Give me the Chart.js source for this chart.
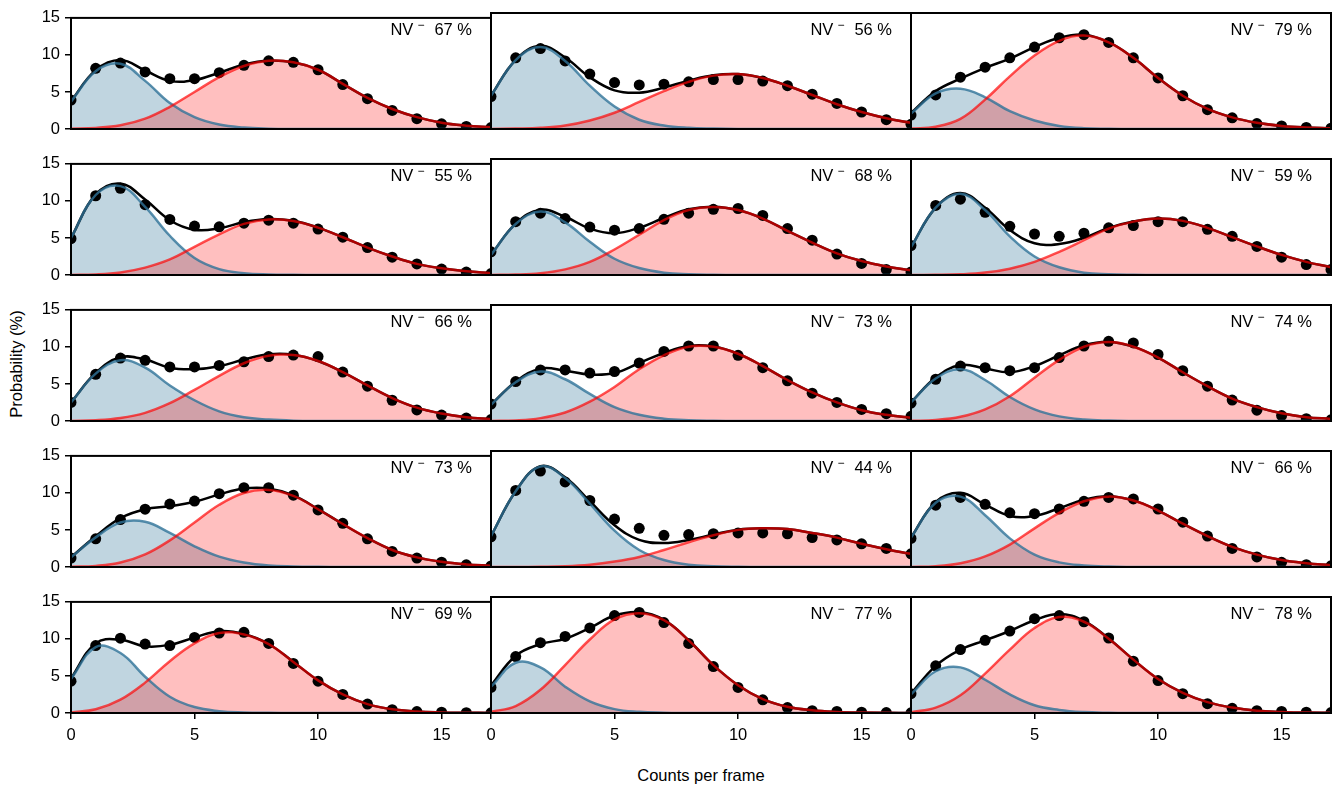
<!DOCTYPE html>
<html lang="en">
<head>
<meta charset="UTF-8">
<title>NV charge state histograms</title>
<script src="https://cdn.jsdelivr.net/npm/chart.js"></script>
<style>
  body { margin: 0; background: #fff; font-family: 'Liberation Sans', Arial, sans-serif; }
  #fig { position: relative; width: 1338px; height: 791px; overflow: hidden; background: #fff; }
  #fig canvas { position: absolute; }
  .tag { position: absolute; font-size: 16.5px; color: #000; white-space: nowrap; line-height: 18px; }
  .tag sup { font-size: 12px; vertical-align: 6px; line-height: 0; margin: 0 10px 0 4px; }
  .xlabel { position: absolute; left: 501px; width: 400px; top: 766px; text-align: center; font-size: 16.5px; }
  .ylabel { position: absolute; left: 16px; top: 364px; transform: translate(-50%, -50%) rotate(-90deg); font-size: 16.5px; white-space: nowrap; }
</style>
</head>
<body>
<div id="fig">
  <div class="ylabel">Probability (%)</div>
  <div class="xlabel">Counts per frame</div>
</div>

<script>
// photon counts per frame (x positions of the histogram bins)
const counts = [0, 1, 2, 3, 4, 5, 6, 7, 8, 9, 10, 11, 12, 13, 14, 15, 16, 17];
const xTicks = [0, 5, 10, 15];
const yTicks = [0, 5, 10, 15];

// NV- share printed in each panel (row by row)
const nvMinusShare = [67, 56, 79, 55, 68, 59, 66, 73, 74, 73, 44, 66, 69, 77, 78];

// measured histograms (black dots), %
const measured = [
  [3.9, 8.2, 8.9, 7.7, 6.8, 6.8, 7.6, 8.6, 9.2, 9.0, 8.0, 6.0, 4.1, 2.5, 1.4, 0.7, 0.35, 0.2],
  [4.2, 9.2, 10.4, 8.8, 7.1, 6.0, 5.7, 5.8, 6.1, 6.4, 6.4, 6.2, 5.6, 4.5, 3.3, 2.2, 1.2, 0.6],
  [1.8, 4.4, 6.7, 8.0, 9.2, 10.6, 11.8, 12.2, 11.2, 9.2, 6.6, 4.3, 2.5, 1.45, 0.7, 0.4, 0.2, 0.1],
  [4.9, 10.7, 11.7, 9.5, 7.5, 6.6, 6.5, 7.0, 7.4, 7.0, 6.2, 5.1, 3.7, 2.4, 1.5, 0.8, 0.4, 0.2],
  [3.0, 6.9, 8.0, 7.3, 6.2, 5.8, 6.0, 7.2, 8.0, 8.5, 8.6, 7.7, 6.0, 4.5, 2.7, 1.5, 0.7, 0.4],
  [3.8, 9.0, 9.8, 8.1, 6.3, 5.3, 5.0, 5.4, 6.1, 6.4, 6.9, 6.9, 5.9, 5.0, 3.7, 2.3, 1.35, 0.7],
  [2.5, 6.3, 8.5, 8.2, 7.3, 7.3, 7.5, 8.0, 8.7, 8.9, 8.7, 6.6, 4.7, 2.8, 1.5, 0.8, 0.4, 0.2],
  [2.2, 5.1, 6.6, 6.6, 6.2, 6.4, 7.5, 9.0, 9.7, 9.7, 8.5, 6.9, 5.2, 3.6, 2.4, 1.5, 0.95, 0.6],
  [2.3, 5.4, 7.1, 6.9, 6.5, 6.9, 8.2, 9.7, 10.3, 10.1, 8.6, 6.5, 4.5, 2.7, 1.4, 0.7, 0.3, 0.15],
  [1.2, 3.8, 6.4, 7.8, 8.5, 8.9, 9.9, 10.7, 10.7, 9.7, 7.7, 5.9, 3.8, 2.1, 1.2, 0.65, 0.3, 0.15],
  [3.9, 9.9, 12.4, 11.0, 8.6, 6.2, 5.0, 4.1, 4.2, 4.3, 4.4, 4.4, 4.3, 3.8, 3.5, 3.0, 2.4, 1.7],
  [3.7, 8.0, 9.0, 8.1, 7.0, 6.9, 7.5, 8.5, 9.0, 8.8, 7.5, 5.8, 4.0, 2.4, 1.3, 0.6, 0.3, 0.15],
  [4.3, 9.1, 10.1, 9.3, 9.1, 10.2, 10.8, 10.9, 9.4, 6.7, 4.3, 2.5, 1.2, 0.45, 0.2, 0.1, 0.05, 0.02],
  [3.3, 7.3, 9.1, 9.9, 11.0, 12.6, 13.0, 11.7, 9.0, 6.0, 3.3, 1.7, 0.7, 0.3, 0.2, 0.1, 0.05, 0.02],
  [2.5, 6.1, 8.2, 9.4, 10.6, 12.2, 12.6, 11.8, 9.7, 6.7, 4.2, 2.5, 1.2, 0.6, 0.3, 0.2, 0.1, 0.05]
];

// NV0 component of the fit (blue)
const nv0Fit = [
  [3.7, 7.8, 8.8, 6.5, 3.5, 1.6, 0.6, 0.2, 0.05, 0, 0, 0, 0, 0, 0, 0, 0, 0],
  [4.3, 8.9, 10.6, 8.8, 5.6, 2.9, 1.2, 0.45, 0.15, 0.05, 0, 0, 0, 0, 0, 0, 0, 0],
  [2.0, 4.6, 5.2, 4.1, 2.3, 1.1, 0.4, 0.1, 0.03, 0, 0, 0, 0, 0, 0, 0, 0, 0],
  [5.0, 10.8, 12.0, 9.2, 5.3, 2.3, 0.8, 0.25, 0.07, 0.02, 0, 0, 0, 0, 0, 0, 0, 0],
  [2.6, 6.6, 8.2, 6.8, 4.3, 2.1, 0.9, 0.3, 0.1, 0.03, 0, 0, 0, 0, 0, 0, 0, 0],
  [3.6, 8.7, 10.5, 8.4, 5.0, 2.4, 1.0, 0.3, 0.1, 0.03, 0, 0, 0, 0, 0, 0, 0, 0],
  [2.5, 6.4, 8.2, 7.2, 4.8, 2.8, 1.3, 0.5, 0.2, 0.05, 0, 0, 0, 0, 0, 0, 0, 0],
  [2.1, 5.0, 6.4, 5.4, 3.5, 1.8, 0.8, 0.3, 0.1, 0.03, 0, 0, 0, 0, 0, 0, 0, 0],
  [2.4, 5.5, 6.7, 5.3, 3.1, 1.5, 0.6, 0.2, 0.06, 0.01, 0, 0, 0, 0, 0, 0, 0, 0],
  [1.3, 4.0, 6.0, 6.1, 4.6, 2.8, 1.4, 0.6, 0.2, 0.07, 0.02, 0, 0, 0, 0, 0, 0, 0],
  [4.0, 9.8, 13.0, 11.5, 8.2, 4.7, 2.2, 0.9, 0.3, 0.1, 0.03, 0, 0, 0, 0, 0, 0, 0],
  [3.8, 8.3, 9.1, 6.7, 3.7, 1.6, 0.6, 0.2, 0.05, 0.01, 0, 0, 0, 0, 0, 0, 0, 0],
  [4.6, 8.9, 8.1, 4.9, 2.2, 0.8, 0.25, 0.07, 0.02, 0, 0, 0, 0, 0, 0, 0, 0, 0],
  [3.4, 6.5, 5.9, 3.4, 1.5, 0.5, 0.15, 0.04, 0.01, 0, 0, 0, 0, 0, 0, 0, 0, 0],
  [2.4, 5.4, 5.9, 4.3, 2.4, 1.0, 0.4, 0.12, 0.03, 0, 0, 0, 0, 0, 0, 0, 0, 0]
];

// NV- component of the fit (red)
const nvMinusFit = [
  [0.05, 0.15, 0.5, 1.4, 3.0, 5.0, 7.0, 8.5, 9.2, 9.0, 8.0, 6.1, 4.2, 2.7, 1.6, 0.85, 0.45, 0.22],
  [0, 0.05, 0.15, 0.45, 1.1, 2.1, 3.5, 4.9, 6.1, 6.9, 7.1, 6.6, 5.6, 4.4, 3.2, 2.2, 1.4, 0.8],
  [0.05, 0.3, 1.3, 3.8, 6.8, 9.5, 11.4, 12.1, 11.2, 9.2, 6.6, 4.3, 2.6, 1.5, 0.8, 0.4, 0.2, 0.1],
  [0.01, 0.08, 0.35, 1.0, 2.1, 3.8, 5.5, 6.9, 7.5, 7.3, 6.4, 5.1, 3.7, 2.5, 1.5, 0.9, 0.5, 0.25],
  [0.01, 0.05, 0.23, 0.73, 1.7, 3.3, 5.2, 7.1, 8.4, 8.8, 8.4, 7.3, 5.7, 4.2, 2.8, 1.8, 1.1, 0.6],
  [0, 0.02, 0.09, 0.31, 0.82, 1.7, 3.0, 4.5, 6.0, 6.9, 7.3, 7.0, 6.1, 4.9, 3.7, 2.6, 1.7, 1.0],
  [0.01, 0.1, 0.4, 1.1, 2.4, 4.2, 6.1, 7.8, 8.8, 8.9, 8.1, 6.6, 4.8, 3.1, 1.8, 1.0, 0.5, 0.25],
  [0.01, 0.08, 0.37, 1.1, 2.5, 4.4, 6.7, 8.5, 9.6, 9.6, 8.7, 7.1, 5.3, 3.7, 2.4, 1.4, 0.8, 0.42],
  [0.02, 0.13, 0.54, 1.5, 3.2, 5.6, 7.9, 9.6, 10.2, 9.6, 8.2, 6.3, 4.5, 2.9, 1.8, 1.0, 0.5, 0.27],
  [0.02, 0.15, 0.6, 1.7, 3.6, 6.0, 8.4, 10.0, 10.4, 9.6, 7.8, 5.8, 3.9, 2.3, 1.3, 0.7, 0.35, 0.16],
  [0, 0, 0.03, 0.1, 0.3, 0.7, 1.3, 2.2, 3.2, 4.1, 4.8, 5.0, 4.9, 4.4, 3.8, 3.0, 2.3, 1.7],
  [0.01, 0.11, 0.49, 1.37, 2.9, 5.0, 7.0, 8.5, 9.1, 8.6, 7.3, 5.6, 4.0, 2.6, 1.6, 0.9, 0.5, 0.24],
  [0.08, 0.5, 1.8, 4.1, 7.0, 9.4, 10.8, 10.6, 9.3, 6.9, 4.4, 2.5, 1.2, 0.5, 0.2, 0.08, 0.03, 0.01],
  [0.15, 0.9, 3.0, 6.2, 9.5, 12.1, 12.9, 12.0, 9.4, 6.2, 3.6, 1.8, 0.8, 0.35, 0.14, 0.05, 0.02, 0.01],
  [0.1, 0.7, 2.3, 5.1, 8.2, 11.0, 12.4, 11.8, 9.6, 6.9, 4.4, 2.6, 1.4, 0.7, 0.3, 0.14, 0.05, 0.02]
];

// panel geometry (page pixels)
const plotLeft = [71, 491, 911];
const plotTop = [13, 159, 305, 451, 597];
const plotW = 420, plotH = 116;
const padL = 50, padT = 10, padR = 10, padB = 40;

const font = { family: "'Liberation Sans', Arial, sans-serif", size: 16.5 };

// black frame round each panel
const frame = {
  id: 'frame',
  afterDatasetsDraw(chart) {
    const { ctx, chartArea: a } = chart;
    ctx.save();
    ctx.strokeStyle = '#000';
    ctx.lineWidth = 2;
    ctx.strokeRect(a.left, a.top, a.right - a.left, a.bottom - a.top);
    ctx.restore();
  }
};

function pts(vals) {
  return counts.map((x, k) => ({ x: x, y: vals[k] }));
}

const fig = document.getElementById('fig');

nvMinusShare.forEach((share, i) => {
  const row = Math.floor(i / 3), col = i % 3;
  const isLeft = col === 0, isBottom = row === 4;

  const cv = document.createElement('canvas');
  cv.width = padL + plotW + padR;
  cv.height = padT + plotH + padB;
  cv.style.left = (plotLeft[col] - padL) + 'px';
  cv.style.top = (plotTop[row] - padT) + 'px';
  fig.appendChild(cv);

  const tag = document.createElement('div');
  tag.className = 'tag';
  tag.style.right = (1338 - (plotLeft[col] + plotW - 19)) + 'px';
  tag.style.top = (plotTop[row] + 7) + 'px';
  tag.innerHTML = 'NV<sup>\u2212</sup>' + share + ' %';
  fig.appendChild(tag);

  const b = nv0Fit[i], r = nvMinusFit[i];
  const total = b.map((v, k) => +(v + r[k]).toFixed(3));

  new Chart(cv, {
    type: 'line',
    data: {
      datasets: [
        { data: pts(b), fill: 'origin', backgroundColor: 'rgba(48, 115, 152, 0.3)', borderWidth: 0, pointRadius: 0, tension: 0.4, order: 6 },
        { data: pts(r), fill: 'origin', backgroundColor: 'rgba(255, 0, 0, 0.25)', borderWidth: 0, pointRadius: 0, tension: 0.4, order: 5 },
        { data: pts(measured[i]), showLine: false, pointRadius: 5.5, pointBackgroundColor: '#000', pointBorderWidth: 0, order: 4 },
        { data: pts(total), borderColor: '#000', borderWidth: 2.5, pointRadius: 0, fill: false, tension: 0.4, order: 3 },
        { data: pts(b), borderColor: 'rgba(48, 115, 152, 0.8)', borderWidth: 2.5, pointRadius: 0, fill: false, tension: 0.4, order: 2 },
        { data: pts(r), borderColor: 'rgba(255, 0, 0, 0.68)', borderWidth: 2.5, pointRadius: 0, fill: false, tension: 0.4, order: 1 }
      ]
    },
    options: {
      responsive: false,
      animation: false,
      events: [],
      layout: { padding: { top: padT, right: padR, left: 0, bottom: 0 } },
      plugins: { legend: { display: false }, tooltip: { enabled: false } },
      scales: {
        x: {
          type: 'linear', min: 0, max: 17,
          afterFit: s => { s.height = padB; },
          afterBuildTicks: s => { s.ticks = xTicks.map(v => ({ value: v })); },
          ticks: { display: isBottom, color: '#000', font: font, padding: 7, maxRotation: 0, autoSkip: false },
          grid: { display: isBottom, drawOnChartArea: false, drawTicks: true, tickLength: 6, color: '#000', lineWidth: 1.5 },
          border: { display: false }
        },
        y: {
          type: 'linear', min: 0, max: 15,
          afterFit: s => { s.width = padL; },
          afterBuildTicks: s => { s.ticks = yTicks.map(v => ({ value: v })); },
          ticks: { display: isLeft, color: '#000', font: font, padding: 5 },
          grid: { display: isLeft, drawOnChartArea: false, drawTicks: true, tickLength: 6, color: '#000', lineWidth: 1.5 },
          border: { display: false }
        }
      }
    },
    plugins: [frame]
  });
});
</script>
</body>
</html>
